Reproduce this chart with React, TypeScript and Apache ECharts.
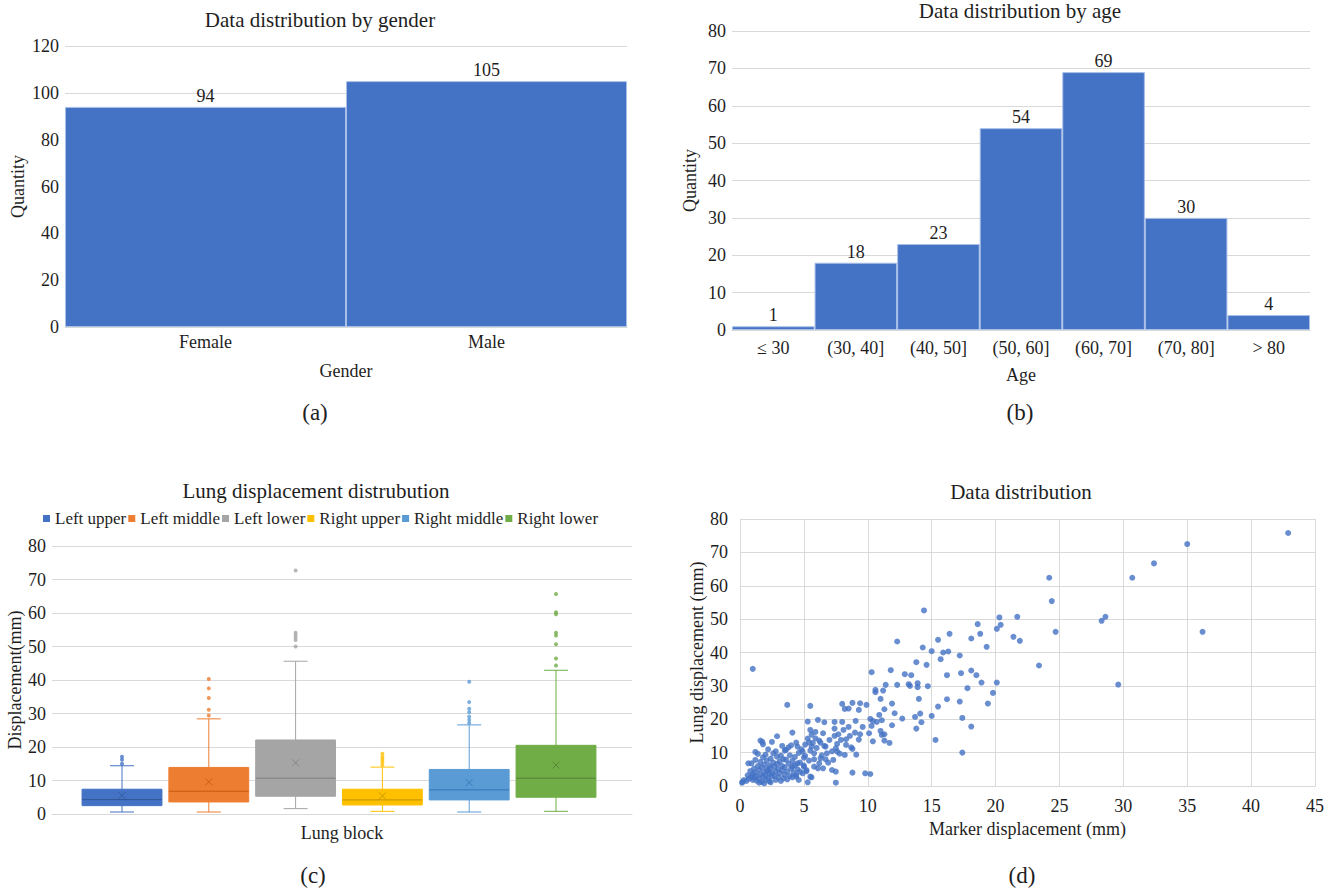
import React, { useEffect, useRef } from 'react';
import * as echarts from 'echarts';

// ---------------- data ----------------
const genderCategories = ['Female', 'Male'];
const genderCounts = [94, 105];

const ageCategories = ['≤ 30', '(30, 40]', '(40, 50]', '(50, 60]', '(60, 70]', '(70, 80]', '> 80'];
const ageCounts = [1, 18, 23, 54, 69, 30, 4];

const lungBlocks = ['Left upper', 'Left middle', 'Left lower', 'Right upper', 'Right middle', 'Right lower'];
// [min, Q1, median, Q3, max] (whisker ends)
const boxStats = [
  [0.6, 2.5, 4.3, 7.4, 14.4],
  [0.6, 3.6, 6.8, 13.9, 28.4],
  [1.6, 5.3, 10.7, 22.1, 45.6],
  [0.8, 2.7, 4.2, 7.4, 14.0],
  [0.6, 4.2, 7.2, 13.3, 26.6],
  [0.8, 5.0, 10.7, 20.5, 42.9],
];
const boxMeans = [5.5, 9.6, 15.3, 5.4, 9.4, 14.6];
const boxOutliers = [
  [15.0, 16.2, 17.1],
  [29.4, 31.1, 34.6, 37.5, 40.3],
  [50.0, 51.9, 52.7, 53.4, 54.1, 72.7],
  [14.6, 15.5, 16.3, 17.0, 18.0],
  [27.2, 28.1, 29.0, 30.4, 31.4, 33.4, 39.5],
  [44.3, 46.4, 50.7, 53.3, 54.1, 59.6, 60.2, 65.7],
];

// [marker displacement (mm), lung displacement (mm)]
const scatterPoints: [number, number][] = [
  [42.9, 75.8], [35.0, 72.5], [32.4, 66.7], [24.2, 62.4], [30.7, 62.4], [24.4, 55.4], [14.4, 52.6],
  [20.3, 50.5], [21.7, 50.7], [28.6, 50.7], [28.3, 49.5], [18.6, 48.5], [20.4, 48.3], [20.1, 47.1],
  [24.7, 46.2], [36.2, 46.2], [16.4, 45.6], [18.8, 45.6], [18.1, 44.2], [15.5, 43.8], [21.4, 44.7],
  [21.9, 43.5], [12.3, 43.3], [14.3, 41.5], [19.3, 41.7], [15.0, 40.4], [15.9, 40.0], [16.3, 40.3],
  [17.2, 39.1], [15.7, 38.0], [13.8, 37.1], [14.6, 36.3], [23.4, 36.1], [1.0, 35.1], [10.3, 34.1],
  [11.8, 34.7], [18.1, 34.6], [12.9, 33.5], [13.4, 33.2], [16.2, 33.2], [17.3, 33.8], [18.5, 33.2],
  [13.2, 30.5], [12.3, 30.3], [11.4, 30.3], [13.3, 30.0], [13.9, 30.8], [13.9, 29.6], [14.7, 29.9],
  [18.9, 31.0], [20.1, 31.0], [29.6, 30.4], [17.8, 29.3], [10.6, 28.8], [10.6, 28.1], [11.2, 28.6],
  [19.8, 27.9], [11.0, 26.1], [14.0, 26.1], [16.2, 26.0], [17.2, 25.3], [19.4, 24.7], [3.7, 24.3],
  [5.5, 24.0], [8.0, 24.6], [8.8, 24.9], [9.4, 24.8], [9.9, 24.3], [11.9, 24.7], [15.5, 23.8],
  [8.2, 23.1], [8.5, 23.2], [9.3, 22.8], [11.3, 23.0], [14.1, 21.7], [15.0, 21.0], [13.7, 20.7],
  [17.4, 20.4], [12.7, 20.2], [10.2, 20.1], [5.3, 19.3], [6.1, 19.8], [6.6, 19.1], [7.4, 19.2],
  [8.0, 19.2], [9.05, 19.5], [11.1, 19.7], [10.7, 19.2], [14.2, 19.1], [11.9, 18.2], [10.3, 18.0],
  [18.1, 17.8], [13.8, 17.2], [8.5, 17.7], [7.4, 17.2], [5.5, 16.8], [4.1, 16.0], [2.9, 14.9],
  [5.6, 15.4], [7.7, 15.5], [9.4, 15.5], [11.1, 15.3], [11.0, 16.5], [15.3, 13.8], [11.7, 12.9],
  [10.4, 13.4], [11.3, 13.6], [1.75, 13.2], [3.8, 11.6], [17.4, 10.0], [9.1, 9.4], [8.8, 4.0],
  [9.8, 3.8], [10.2, 3.6], [7.5, 1.0], [5.3, 1.1], [0.16, 1.0],
  [3.5, 10.6], [4.5, 11.8], [4.9, 10.3], [5.6, 11.8], [5.9, 14.3], [6.2, 13.6], [6.6, 12.0],
  [6.8, 9.8], [6.3, 8.3], [6.7, 8.0], [5.8, 5.8], [6.5, 5.3], [7.2, 4.8], [7.5, 4.3], [5.5, 2.8],
  [4.7, 4.3], [4.1, 5.8], [4.5, 6.8], [5.1, 9.0], [7.5, 11.3], [7.9, 13.8], [8.3, 12.3], [8.6, 15.0],
  [8.8, 11.1], [7.6, 10.3], [8.2, 9.3], [7.3, 7.8], [5.4, 13.1], [5.8, 9.8], [6.2, 6.8], [5.2, 4.8],
  [4.4, 2.8], [5.0, 5.8],
  [0.5, 1.5], [0.6, 3.2], [0.7, 2.2], [0.8, 4.5], [0.9, 2.8], [0.9, 6.8], [1.0, 3.6], [1.0, 1.8],
  [1.1, 5.2], [1.1, 2.5], [1.2, 7.8], [1.2, 4.1], [1.3, 3.0], [1.3, 1.6], [1.4, 6.0], [1.4, 9.6],
  [1.5, 2.2], [1.5, 4.8], [1.6, 3.5], [1.6, 7.2], [1.7, 1.2], [1.7, 5.6], [1.8, 2.8], [1.8, 12.5],
  [1.8, 8.6], [1.9, 4.2], [1.9, 6.4], [2.0, 1.9], [2.0, 3.3], [2.0, 9.4], [2.1, 5.0], [2.1, 7.6],
  [2.2, 2.4], [2.2, 4.6], [2.3, 3.7], [2.3, 6.1], [2.3, 1.4], [2.4, 8.2], [2.4, 5.4], [2.5, 2.9],
  [2.5, 4.0], [2.6, 7.0], [2.6, 9.8], [2.7, 3.1], [2.7, 5.8], [2.8, 1.8], [2.8, 4.4], [2.9, 6.6],
  [2.9, 8.8], [3.0, 2.6], [3.0, 5.1], [3.1, 3.8], [3.1, 7.3], [3.2, 1.5], [3.2, 9.1], [3.3, 4.7],
  [3.3, 6.0], [3.4, 2.3], [3.4, 8.0], [3.5, 3.4], [3.5, 5.6], [3.6, 7.9], [3.6, 10.8], [3.7, 4.3],
  [3.7, 2.0], [3.8, 6.7], [3.9, 3.0], [3.9, 9.2], [4.0, 5.2], [4.0, 12.2], [4.1, 7.5], [4.1, 2.6],
  [4.2, 4.0], [4.3, 8.7], [4.3, 6.2], [4.4, 3.3], [4.4, 13.0], [4.5, 5.0], [4.6, 9.9], [4.6, 1.8],
  [4.7, 7.0], [4.8, 11.0], [4.9, 3.8], [5.0, 6.1], [5.0, 8.5], [5.1, 12.4], [5.2, 4.4], [5.3, 14.2],
  [5.4, 7.6], [5.5, 10.6], [5.6, 2.6], [5.7, 12.9], [5.8, 8.0], [5.9, 16.2], [6.0, 11.4], [6.1, 5.3],
  [6.3, 13.0], [6.4, 9.2], [6.5, 15.8], [6.7, 11.8], [6.9, 7.0], [7.0, 13.8], [7.2, 10.4], [7.4, 15.0],
  [7.6, 12.6], [7.8, 9.7], [8.1, 16.8], [8.3, 14.0], [8.7, 11.6], [9.0, 16.0], [9.3, 13.9], [9.6, 17.7],
  [10.1, 15.8], [10.4, 19.5], [10.9, 21.3], [11.3, 15.5], [12.1, 21.8],
  [0.2, 1.2], [0.3, 1.8], [1.5, 1.0], [2.4, 1.1], [1.9, 0.8], [0.65, 6.8], [1.2, 10.2], [2.2, 11.0],
  [1.6, 13.6], [2.8, 10.4], [3.3, 12.0], [2.5, 13.2],
];

// ---------------- styles ----------------
const SERIF = '"Liberation Serif", "Times New Roman", serif';
const TEXT = '#1e1e1e';
const GRID_LINE = '#d9d9d9';
const BAR_BLUE = '#4472C4';
const BLOCK_FILL = ['#4472C4', '#ED7D31', '#A5A5A5', '#FFC000', '#5B9BD5', '#70AD47'];
const BLOCK_LINE = ['#2F5597', '#C55A11', '#7F7F7F', '#BF9000', '#2E75B6', '#548235'];
const BOX_LEFT = 78.6;
const BOX_STEP = 86.8;
const FS = 18;

const tickLabel = (margin: number) => ({ color: TEXT, fontSize: FS, fontFamily: SERIF, margin });
const nameStyle = { color: TEXT, fontSize: FS, fontFamily: SERIF };

function valueYAxis(gridIndex: number, max: number, interval: number, name: string, nameGap: number, margin = 6) {
  return {
    type: 'value', gridIndex, min: 0, max, interval,
    name, nameLocation: 'middle', nameGap, nameTextStyle: nameStyle,
    axisLine: { show: false }, axisTick: { show: false },
    axisLabel: tickLabel(margin),
    splitLine: { show: true, lineStyle: { color: GRID_LINE, width: 1 } },
  };
}

function categoryXAxis(gridIndex: number, data: string[], name: string, nameGap: number, margin: number, showLabel = true) {
  return {
    type: 'category', gridIndex, data,
    name, nameLocation: 'middle', nameGap, nameTextStyle: nameStyle,
    axisLine: { show: true, lineStyle: { color: GRID_LINE, width: 1 } },
    axisTick: { show: false },
    axisLabel: { ...tickLabel(margin), show: showLabel, interval: 0 },
    splitLine: { show: false },
  };
}

function caption(text: string, x: number, y: number, size: number) {
  return {
    type: 'text', x, y, silent: true,
    style: {
      text, font: `${size}px ${SERIF}`, fill: TEXT,
      textAlign: 'center', textVerticalAlign: 'middle', align: 'center', verticalAlign: 'middle',
    },
  };
}

function boxRenderer(k: number) {
  return (params: any, api: any) => {
    const cat = api.value(0);
    const ys = [1, 2, 3, 4, 5].map((i) => api.coord([cat, api.value(i)])[1]);
    const x = api.coord([cat, 0])[0];
    const half = api.size([1, 0])[0] * 0.46;
    const cap = 12;
    const [yMin, yQ1, yMed, yQ3, yMax] = ys;
    const whisker = { stroke: BLOCK_FILL[k], lineWidth: 1 };
    return {
      type: 'group',
      children: [
        { type: 'line', shape: { x1: x, y1: yQ3, x2: x, y2: yMax }, style: whisker },
        { type: 'line', shape: { x1: x, y1: yQ1, x2: x, y2: yMin }, style: whisker },
        { type: 'line', shape: { x1: x - cap, y1: yMax, x2: x + cap, y2: yMax }, style: whisker },
        { type: 'line', shape: { x1: x - cap, y1: yMin, x2: x + cap, y2: yMin }, style: whisker },
        {
          type: 'rect',
          shape: { x: x - half, y: yQ3, width: half * 2, height: yQ1 - yQ3 },
          style: { fill: BLOCK_FILL[k], stroke: BLOCK_FILL[k], lineWidth: 1 },
        },
        {
          type: 'line', shape: { x1: x - half, y1: yMed, x2: x + half, y2: yMed },
          style: { stroke: BLOCK_LINE[k], lineWidth: 1 },
        },
      ],
    };
  };
}

function buildOption() {
  const grids: any[] = [
    { left: 65, top: 46, width: 562, height: 281 },
    { left: 732, top: 31, width: 578, height: 299 },
    { left: 52, top: 546, width: 580, height: 268 },
  ];
  const xAxes: any[] = [
    categoryXAxis(0, genderCategories, 'Gender', 35, 6),
    categoryXAxis(1, ageCategories, 'Age', 36, 9),
    categoryXAxis(2, ['Lung block'], 'Lung block', 10, 6, false),
  ];
  const yAxes: any[] = [
    valueYAxis(0, 120, 20, 'Quantity', 38),
    valueYAxis(1, 80, 10, 'Quantity', 33),
    valueYAxis(2, 80, 10, 'Displacement(mm)', 28),
  ];
  const labelStyle = { show: true, position: 'top', distance: 2, color: TEXT, fontSize: FS, fontFamily: SERIF };
  const series: any[] = [
    {
      type: 'bar', name: 'Gender', xAxisIndex: 0, yAxisIndex: 0, data: genderCounts,
      barCategoryGap: '0%',
      itemStyle: { color: BAR_BLUE, borderColor: '#a8bfe8', borderWidth: 1 },
      label: labelStyle,
    },
    {
      type: 'bar', name: 'Age', xAxisIndex: 1, yAxisIndex: 1, data: ageCounts,
      barCategoryGap: '0%',
      itemStyle: { color: BAR_BLUE, borderColor: '#a8bfe8', borderWidth: 1 },
      label: labelStyle,
    },
  ];

  lungBlocks.forEach((block, k) => {
    const gi = grids.length;
    grids.push({ left: BOX_LEFT + BOX_STEP * k, top: 546, width: BOX_STEP, height: 268 });
    xAxes.push({ type: 'category', gridIndex: gi, data: [block], show: false });
    yAxes.push({ type: 'value', gridIndex: gi, min: 0, max: 80, show: false, splitLine: { show: false } });
    series.push({
      type: 'custom', name: block, xAxisIndex: gi, yAxisIndex: gi,
      data: [[0, ...boxStats[k]]],
      encode: { x: 0, y: [1, 2, 3, 4, 5] },
      itemStyle: { color: BLOCK_FILL[k] },
      renderItem: boxRenderer(k),
    });
    series.push({
      type: 'scatter', name: block + ' outliers', xAxisIndex: gi, yAxisIndex: gi,
      data: boxOutliers[k].map((v) => [block, v]), symbolSize: 4,
      itemStyle: { color: BLOCK_FILL[k] },
    });
    series.push({
      type: 'scatter', name: block + ' mean', xAxisIndex: gi, yAxisIndex: gi,
      data: [[block, boxMeans[k]]], symbol: 'path://M0,0L10,10M10,0L0,10', symbolSize: 7,
      itemStyle: { color: 'none', borderColor: BLOCK_LINE[k], borderWidth: 1 },
    });
  });

  const gd = grids.length;
  grids.push({ left: 740, top: 519, width: 575, height: 267 });
  xAxes.push({
    type: 'value', gridIndex: gd, min: 0, max: 45, interval: 5,
    name: 'Marker displacement (mm)', nameLocation: 'middle', nameGap: 34, nameTextStyle: nameStyle,
    axisLine: { show: true, lineStyle: { color: GRID_LINE } }, axisTick: { show: false },
    axisLabel: tickLabel(11),
    splitLine: { show: true, lineStyle: { color: GRID_LINE } },
  });
  yAxes.push(valueYAxis(gd, 80, 10, 'Lung displacement (mm)', 34, 12));
  series.push({
    type: 'scatter', name: 'Data', xAxisIndex: gd, yAxisIndex: gd,
    data: scatterPoints, symbolSize: 6, itemStyle: { color: BAR_BLUE },
  });

  grids.forEach((g) => { g.containLabel = false; g.outerBoundsMode = 'none'; });

  return {
    animation: false,
    backgroundColor: '#ffffff',
    textStyle: { fontFamily: SERIF, color: TEXT },
    grid: grids,
    xAxis: xAxes,
    yAxis: yAxes,
    legend: {
      data: lungBlocks, top: 505, left: 38, itemWidth: 7, itemHeight: 7, itemGap: 2,
      icon: 'rect', selectedMode: false,
      itemStyle: { borderWidth: 0 },
      textStyle: { color: TEXT, fontSize: 17, fontFamily: SERIF },
    },
    graphic: [
      caption('Data distribution by gender', 320, 20, 21),
      caption('Data distribution by age', 1020, 11, 21),
      caption('Lung displacement distrubution', 316, 491, 21),
      caption('Data distribution', 1021, 492, 21),
      caption('(a)', 315, 412, 23),
      caption('(b)', 1020, 412, 23),
      caption('(c)', 313, 875, 23),
      caption('(d)', 1022, 875, 23),
    ],
    series,
  };
}

export default function App() {
  const ref = useRef<HTMLDivElement>(null);
  useEffect(() => {
    if (!ref.current) return;
    const chart = echarts.init(ref.current, null, { renderer: 'svg' });
    chart.setOption(buildOption() as any);
    return () => chart.dispose();
  }, []);
  return (
    <div
      ref={ref}
      style={{ position: 'absolute', left: 0, top: 0, width: 1333, height: 892, background: '#fff' }}
    />
  );
}
